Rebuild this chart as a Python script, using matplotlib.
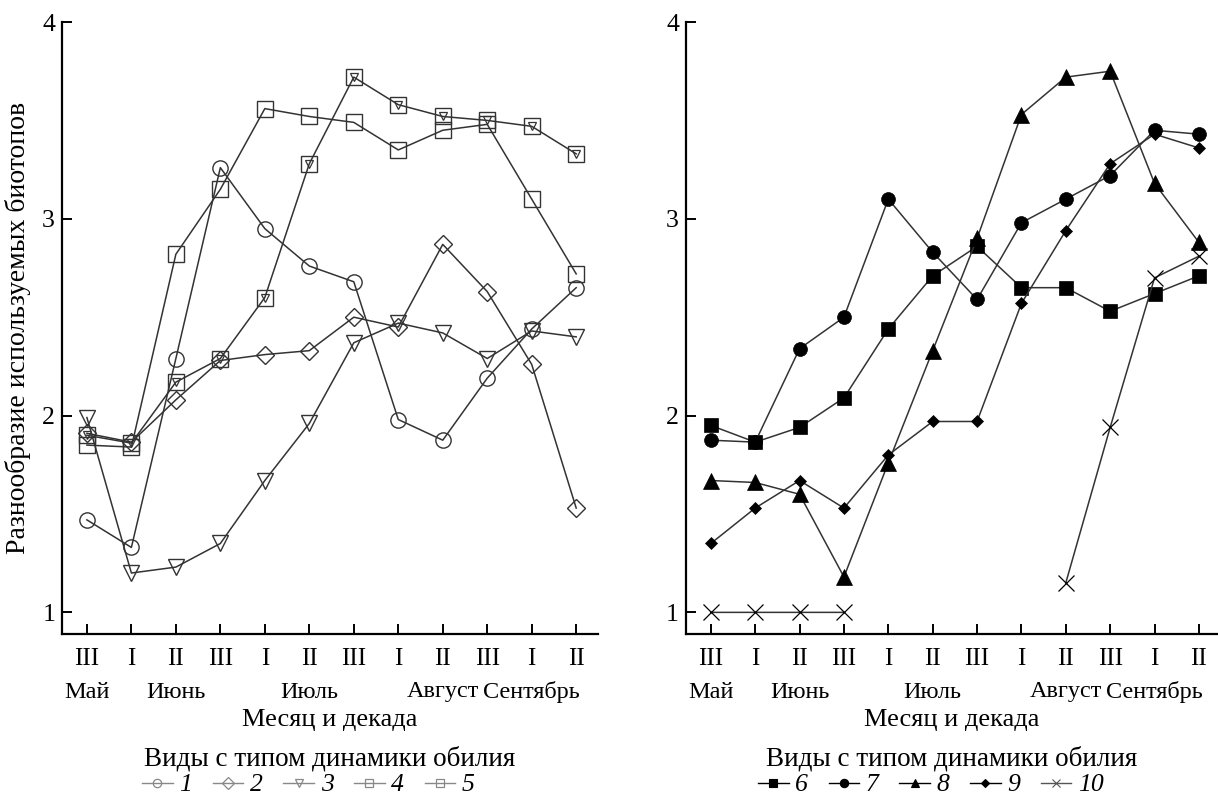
import matplotlib.pyplot as plt
import numpy as np
from matplotlib.transforms import blended_transform_factory

plt.rcParams['font.family'] = ['Liberation Serif', 'DejaVu Serif']

nan = np.nan
decades = ['III', 'I', 'II', 'III', 'I', 'II', 'III', 'I', 'II', 'III', 'I', 'II']
months = ['Май', 'Июнь', 'Июль', 'Август', 'Сентябрь']
month_idx = [0, 2, 5, 8, 10]

# left panel: types 1-5
s1 = [1.47, 1.33, 2.29, 3.26, 2.95, 2.76, 2.68, 1.98, 1.875, 2.19, 2.44, 2.65]
s2 = [1.91, 1.865, 2.08, 2.28, 2.31, 2.33, 2.50, 2.45, 2.87, 2.63, 2.26, 1.53]
s3 = [1.99, 1.20, 1.23, 1.35, 1.67, 1.96, 2.37, 2.47, 2.42, 2.29, 2.43, 2.40]
s4 = [1.85, 1.84, 2.82, 3.15, 3.56, 3.52, 3.49, 3.35, 3.45, 3.48, 3.10, 2.72]
s5 = [1.90, 1.86, 2.17, 2.29, 2.60, 3.28, 3.72, 3.58, 3.52, 3.50, 3.47, 3.33]

# right panel: types 6-10
s6 = [1.95, 1.865, 1.94, 2.09, 2.44, 2.71, 2.86, 2.65, 2.65, 2.53, 2.62, 2.71]
s7 = [1.875, 1.865, 2.34, 2.50, 3.10, 2.83, 2.59, 2.98, 3.10, 3.22, 3.45, 3.43]
s8 = [1.67, 1.66, 1.60, 1.18, 1.76, 2.33, 2.90, 3.53, 3.72, 3.75, 3.18, 2.88]
s9 = [1.35, 1.53, 1.67, 1.53, 1.80, 1.97, 1.97, 2.57, 2.94, 3.28, 3.43, 3.36]
s10 = [1.0, 1.0, 1.0, 1.0, nan, nan, nan, nan, 1.15, 1.94, 2.70, 2.81]

left_series = [('1', s1, 'o'), ('2', s2, 'D'), ('3', s3, 'v'), ('4', s4, 's'), ('5', s5, 's')]
right_series = [('6', s6, 's'), ('7', s7, 'o'), ('8', s8, '^'), ('9', s9, 'D'), ('10', s10, 'x')]

x = np.arange(len(decades))
lc = '#333333'
fs = 18

fig = plt.figure(figsize=(12.18, 7.98), dpi=100)
ax1 = fig.add_axes([0.0509, 0.2055, 0.4397, 0.7669])
ax2 = fig.add_axes([0.5632, 0.2055, 0.4368, 0.7669])

left_ms = {'o': 11, 'D': 9.5, 'v': 11.5, 's': 11}
right_ms = {'s': 10, 'o': 10, '^': 12, 'D': 6, 'x': 11}

h1 = []
for name, vals, m in left_series:
    ax1.plot(x, vals, color=lc, lw=1.1, marker=m, ms=left_ms[m],
             mfc='none', mec=lc, mew=1.0)
    if name == '5':
        # square with a check mark inside
        ax1.plot(x, vals, ls='none', marker='v', ms=6, mfc='none', mec=lc, mew=0.9)
    h = plt.Line2D([], [], color='#888888', lw=1.0, marker=m, ms=6,
                   mfc='none', mec='#888888', mew=0.9)
    h1.append(h)

h2 = []
for name, vals, m in right_series:
    ax2.plot(x, vals, color=lc, lw=1.1, marker=m, ms=right_ms[m],
             mfc='black', mec='black', mew=0.9 if m == 'x' else 0.5)
    h = plt.Line2D([], [], color='#555555' if m == 'x' else 'black', lw=1.0,
                   marker=m, ms=6 if m != 'D' else 4, mfc='black',
                   mec='#555555' if m == 'x' else 'black', mew=0.8)
    h2.append(h)

for ax, handles, labels in [(ax1, h1, [s[0] for s in left_series]),
                            (ax2, h2, [s[0] for s in right_series])]:
    ax.set_xlim(-0.56, 11.48)
    ax.set_ylim(0.89, 4.0)
    ax.spines['top'].set_visible(False)
    ax.spines['right'].set_visible(False)
    ax.spines['left'].set_linewidth(1.6)
    ax.spines['bottom'].set_linewidth(1.6)
    ax.set_yticks([1, 2, 3, 4])
    ax.set_xticks(x)
    ax.set_xticklabels(decades)
    ax.tick_params(direction='in', length=7, width=1.4, labelsize=fs)
    ax.tick_params(axis='y', labelsize=18.5, pad=5)
    ax.tick_params(axis='x', pad=10)
    tr = blended_transform_factory(ax.transData, fig.transFigure)
    for mi, mname in zip(month_idx, months):
        ax.text(mi, 1 - 692 / 798, mname, transform=tr, ha='center', va='center', fontsize=17.5)
    trc = blended_transform_factory(ax.transAxes, fig.transFigure)
    ax.text(0.5, 1 - 720 / 798, 'Месяц и декада', transform=trc, ha='center',
            va='center', fontsize=19)
    ax.text(0.5, 1 - 759 / 798, 'Виды с типом динамики обилия', transform=trc,
            ha='center', va='center', fontsize=19.5)
    ax.legend(handles, labels, loc='center', bbox_to_anchor=(0.46, 1 - 785 / 798),
              bbox_transform=trc, ncol=5, frameon=False,
              prop={'style': 'italic', 'size': 18.5},
              handlelength=1.2, handletextpad=0.25, columnspacing=0.8,
              borderpad=0, borderaxespad=0)

ax2.set_xlim(-0.56, 11.43)
ax1.set_ylabel('Разнообразие используемых биотопов', fontsize=20, labelpad=8)

fig.savefig('out.png', dpi=100)
